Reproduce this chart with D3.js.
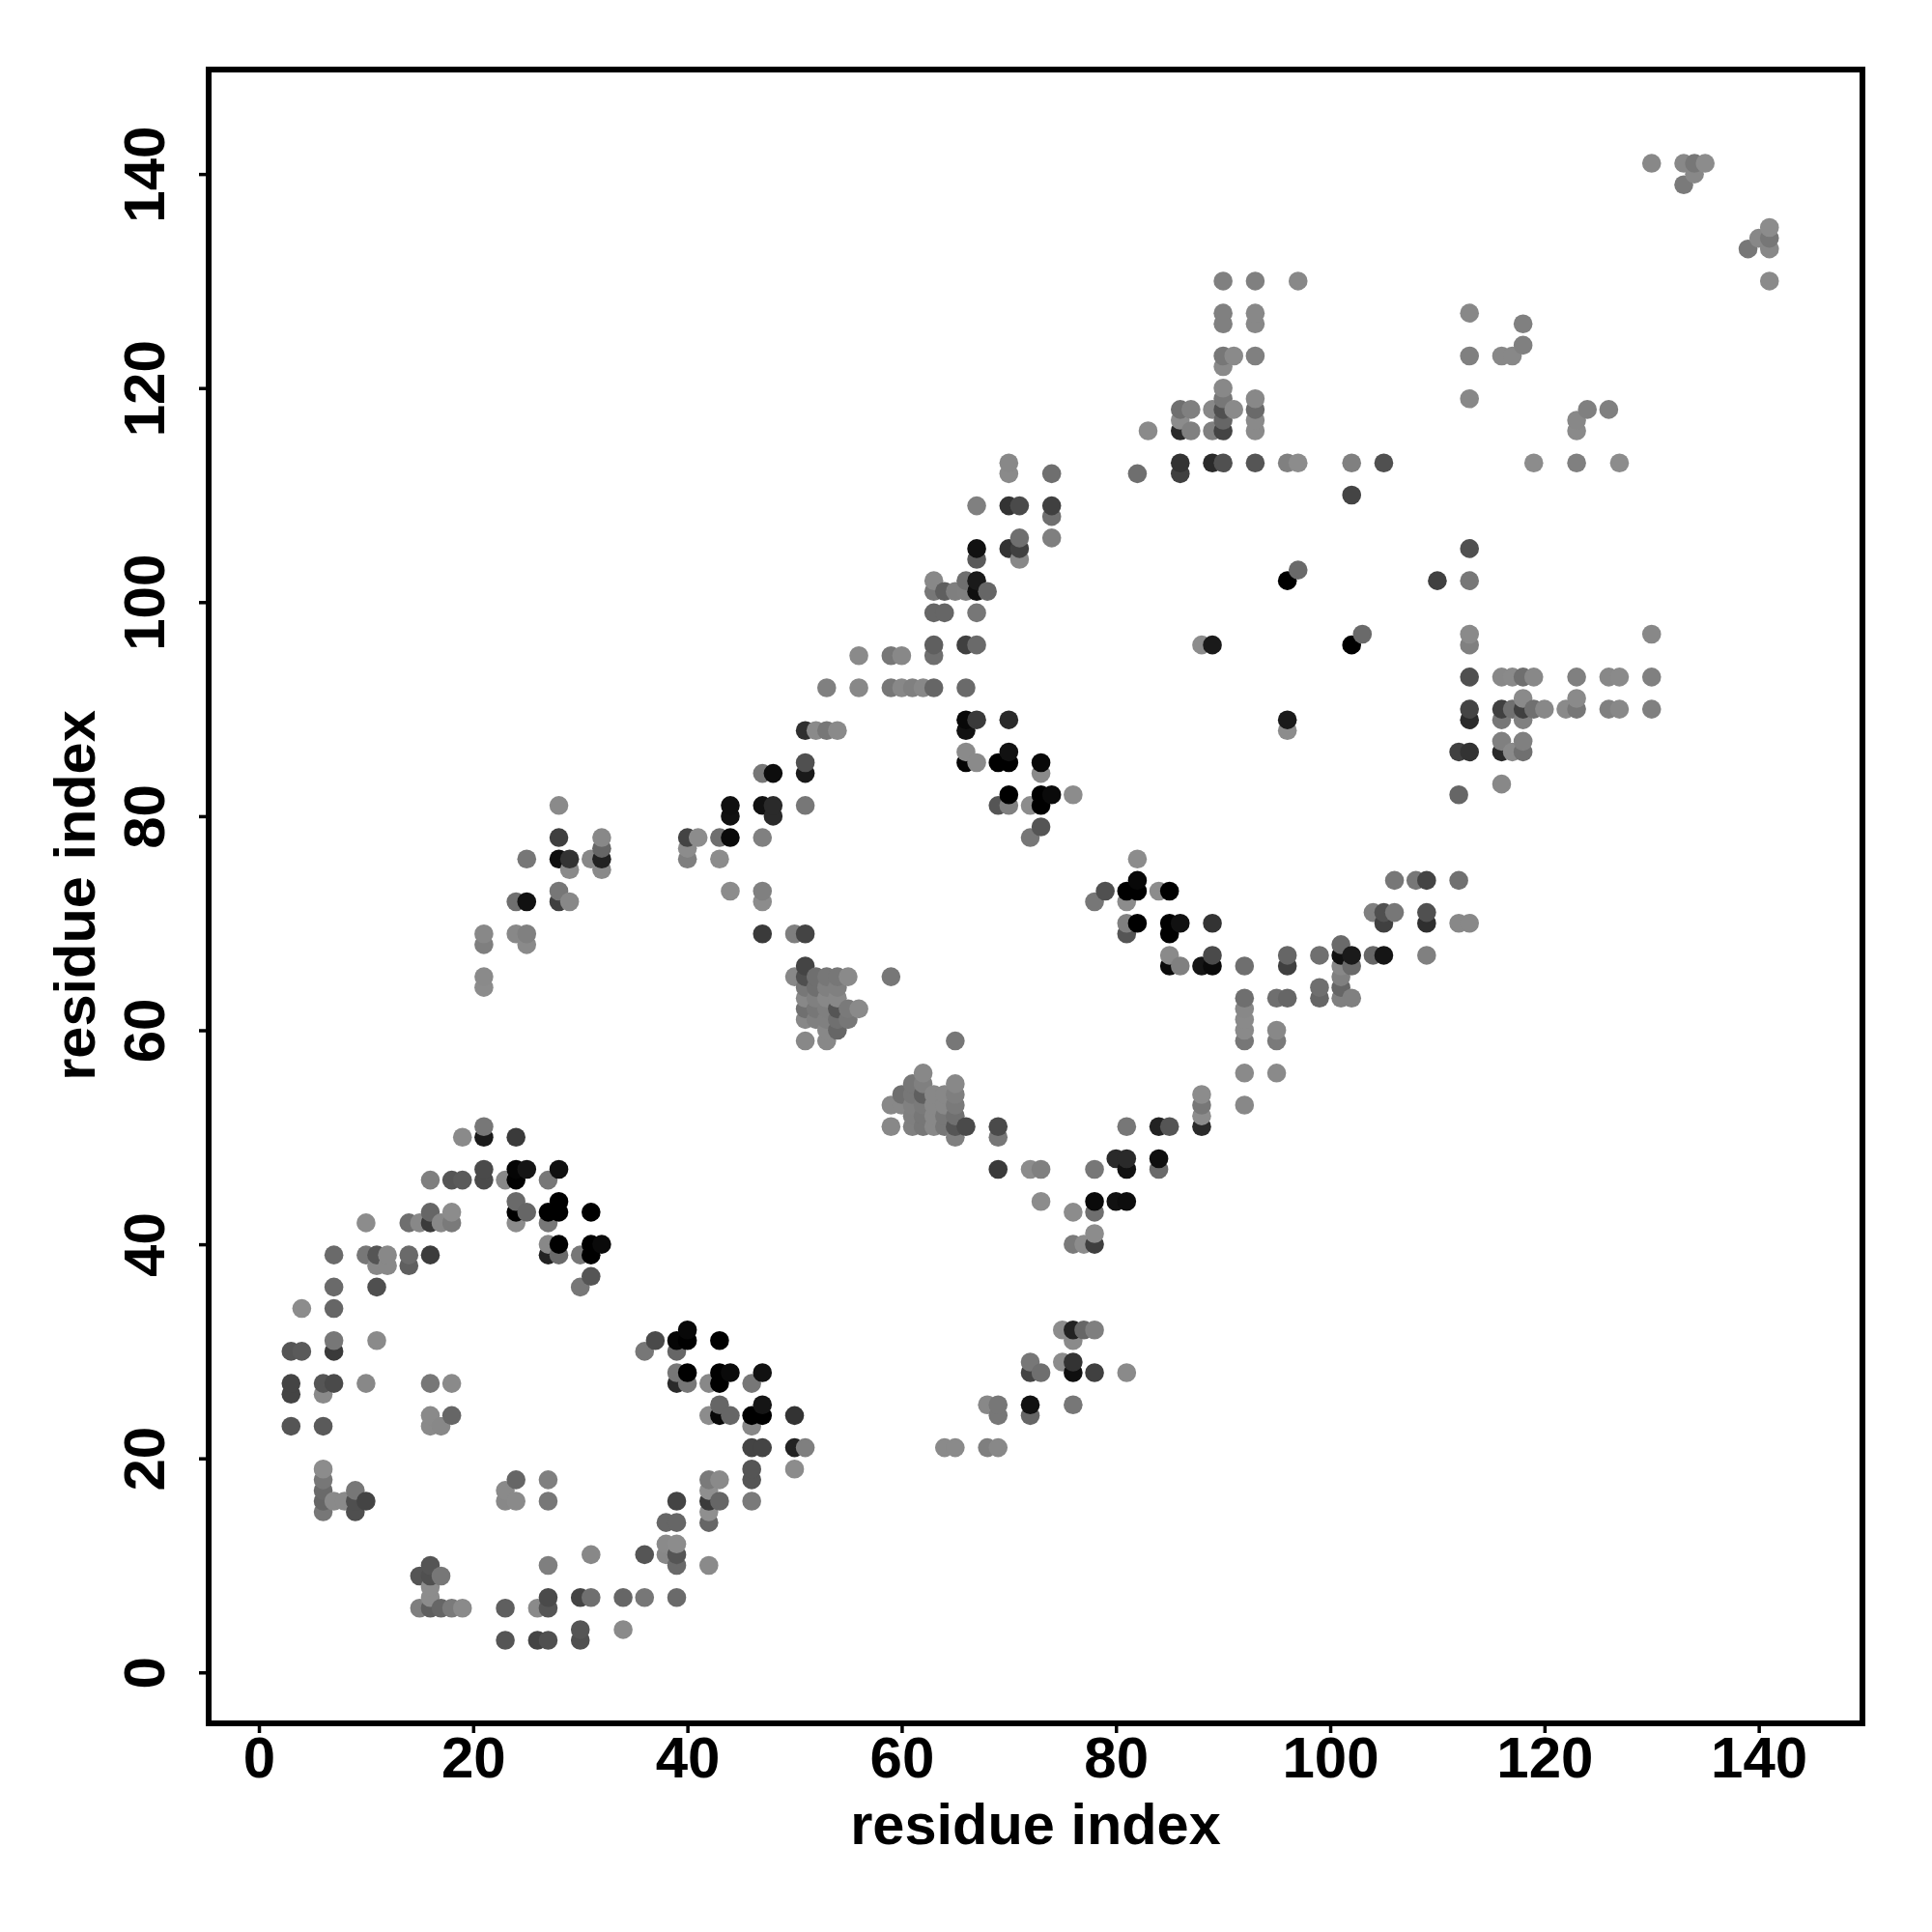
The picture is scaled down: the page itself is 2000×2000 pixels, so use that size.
<!DOCTYPE html>
<html>
<head>
<meta charset="utf-8">
<script src="https://cdn.jsdelivr.net/npm/d3@7"></script>
<style>html,body{margin:0;padding:0;background:#fff}</style>
</head>
<body>
<div id="chart"></div>
<script>
// Contact map.
const rowIndex = [51,50,47,46,44,43,42,40,39,38,37,36,34,32,31,30,28,27,26,25,24,23,21,19,18,17,16,15,14,12,11,10,9,8,7,6,4,3,
  66,65,64,63,62,61,60,59,56,55,54,53,52,51,50,48,47,44,43,41,40,51,52,53,54,32,31,29,28,25,24,21,63,62,61,60,59,56,
  81,80,78,77,76,75,73,72,69,68,65,64,89,88,86,85,84,82,83,79,76,74,71,70,67,68,66,65,64,
  113,112,110,109,108,106,105,104,103,102,101,99,97,96,95,93,92,91,90,87,
  141,140,139,135,134,133,130,127,126,124,123,122,120,119,118,117,116];
const colIndex = [[21],[19,21,24],[21,24,25,28],[16,18,19,21,23,24,27],[24,28],[16,18,24,25,27,28,31],[10,14,15,16,17,18,24,27],[27,28,31,32],[7,10,11,12,14,16,27,28,30,31],[11,12,14],[31],[7,11,30],[4,7],[40],[7,11,37,39,40,43],[3,4,7,36,39],[39,40,43,44,47],[3,6,7,10,16,18,39,40,42,43,46],[3,6],[43,47],[16,18,42,43,44,46,47,50],[3,6,16,17,46],[46,47,50,51],[6,46,50],[6,24,27,42,43,46],[6,9,23,42],[6,7,8,9,10,23,24,27,39,42,43,46],[6,9,42],[38,39,42],[38,39],[31,36,38,39],[16,27,39,42],[15,16,17],[16],[16,27,30,31,34,36,39],[15,16,17,18,19,23,26,27],[30,34],[23,26,27,30],
  [51],[50,51,52,53,54,55,59],[51,52,53,54],[51,52,53,54],[51,52,53,54,55,56],[51,52,53,54,55],[53,54],[51,53,65],[62],[61,62,65],[60,61,62,63,64,65],[59,60,61,62,63,64,65],[61,62,63,64,65],[59,61,62,63,64,65,66,69],[65,69],[80,81,84],[69,72,73,78,81,84],[73,78,80,81],[76,78],[78],[76,77,78],[81,84,85,88],[88],[88,92],[88],[75,76,77,78],[76],[72,75,76],[72,73,76,78,81],[68,69,72,76],[69,72],[64,65,68,69],[92,95,96,99,101,102],[92],[92],[92,95],[92,95],[92,95],
  [28,44,47,48,51,69,70,72,73],[44,48],[28,32,40,41,43,44,47,72],[32,40],[25,28,29,31,32,40,43],[29,32],[28,44,47,79,81,82,84,85],[24,25,28,29,47,78,81],[21,24,25,47,50,51,81,85],[21,25],[21],[21],[66,67,70,96,113,116,118],[51,52,53,54,66,96],[66,70,112,113,116,117,118],[51,66,67,69,70,73],[47,48,51,73],[70,73,74,76,112],[116],[73],[82],[82,106,108,109,112],[104,105,106,109],[81,82,85,86,89,105,109,112,113],[85,89,96,99,101,102,104,105,109],[101],[85,86,88,89,92,96,101,102],[101],[99,101],
  [70,86,89,90,93,96,97,102,105,119,123,127],[70,74,82,86],[102],[67,70,71,74],[74],[71,74],[67,70,71,113],[67,71],[97],[63,66,67,96,110,113],[63,64,65,66,67,68],[63,64,67],[103,113,130],[63,66,67,88,89,102,113],[56,59,60,63],[113,116,117,118,119,123,126,127,130],[53,56,59,60,61,62,63,66],[118,123],[113,116,117,118,119,120,122,123,126,127,130],[116,118],
  [130,133,134,135],[134],[133],[141],[140,141],[139,141],[90,93,97,141],[90,93,113],[90,93,118],[118],[90,91,93,113,116,117],[90],[90],[90,93,113],[86,87,89,90,91,93,124,126],[86,90,93,123],[83,86,87,89,90,93,123]];
const shade = [[119],[138,26,58],[74,5,21,16],[127,85,90,74,136,2,119],[106,0],[102,140,0,102,0,0,0],[140,111,136,58,136,122,140,119],[136,0,0,10],[106,119,85,136,106,60,34,106,119,0],[136,136,95],[85],[106,79,119],[140,102],[8],[119,138,74,5,0,0],[85,90,58,119,102],[119,0,0,10,17],[68,85,74,136,119,138,42,119,136,0,119],[68,138],[102,21],[138,102,140,8,102,0,0,51],[85,90,138,136,136],[68,68,34,127],[140,85,140],[119,102,127,122,138,85],[106,119,138,143],[102,138,138,79,68,136,138,119,68,58,102,122],[119,79,143],[102,102,102],[138,140],[136,85,136,85],[85,127,106,138],[85,80,119],[140],[140,74,68,111,102,119,106],[127,95,102,122,138,95,138,85],[85,138],[85,68,80,80],
  [68],[136,79,111,119,119,138,119],[119,111,128,128],[136,128,136,136],[112,119,127,85,122,138],[136,128,128,112,119],[136,102],[136,136,119],[136],[119,128,136],[111,119,95,136,136,127],[136,136,128,122,136,136,122],[127,119,136,119,112],[136,128,119,136,119,85,74,74],[128,119],[42,42,15],[58,140,128,119,17,106],[140,10,17,13],[140,111],[140],[122,140,63],[119,34,85,42],[140],[119,136],[140],[140,34,102,127],[138],[119,140,51],[68,111,15,64,138],[136,119,17,119],[119,102],[138,138,127,136],[111,111,102,102,128,128],[136],[138],[138,136],[119,122],[138,138],
  [138,15,17,42,119,85,128,140,0],[17,42],[63,136,68,140,111,10,128,119],[102,140],[119,15,51,136,34,127,140],[138,138],[119,140,128,80,0,0,140,0],[111,17,64,136,140,119,140],[136,136,128,58,127,68,85,0],[127,138],[138],[140],[8,58,42,26,42,119,128],[47,138,119,138,17,140],[138,17,64,51,42,138,112],[80,5,138,0,0,8],[119,13,26,138],[0,0,10,140,102],[136],[85],[140],[8,119,119,68,112],[128,80,119,80],[128,0,0,17,51,64,47,136,136],[138,74,102,112,17,26,102,21,128],[106],[10,128,21,10,111,64,136,106],[128],[111,102],
  [136,51,42,80,85,128,140,128,80,140,128,140],[138,111,111,64],[68],[128,51,74,64],[111],[111,127],[17,51,64,80],[90,136],[106],[136,111,26,0,64,119],[119,95,127,128,15,102],[102,102,119],[106,138,136],[95,64,106,140,26,0,128],[138,119,136,111],[80,136,138,111,136,128,136,138,128],[128,136,119,136,128,136,102,106],[138,138],[68,64,112,64,112,136,138,119,128,136,128],[128,128],
  [136,136,119,140],[136],[122],[140],[136,119],[119,136],[128,128,136,138],[128,136,136],[128,136,128],[128],[119,138,128,128,136,136],[138],[136],[119,136,136],[111,128,136,80,138,106,128,128],[140,102,138,136],[138,42,128,128,68,138,138]];
const tickValues = [0,20,40,60,80,100,120,140];
const axisLabel = "residue index";

const points = rowIndex.flatMap((row, i) =>
  colIndex[i].map((col, j) => ({x: col, y: row, s: shade[i][j]}))
).sort((a, b) => d3.ascending(a.x, b.x) || d3.ascending(a.y, b.y));

const svg = d3.select("#chart").append("svg")
  .attr("width", 2000).attr("height", 2000)
  .style("display", "block")
  .style("font-family", "'Liberation Sans', Arial, sans-serif")
  .style("font-weight", "bold");

const x = d3.scaleLinear().domain([-4.69, 149.68]).range([216, 1928]);
const y = d3.scaleLinear().domain([-4.76, 149.76]).range([1784, 72]);

svg.append("g").selectAll("circle").data(points).join("circle")
  .attr("cx", d => x(d.x)).attr("cy", d => y(d.y)).attr("r", 9.8)
  .attr("fill", d => d3.rgb(d.s, d.s, d.s));

svg.append("rect")
  .attr("x", x.range()[0]).attr("y", y.range()[1])
  .attr("width", x.range()[1] - x.range()[0])
  .attr("height", y.range()[0] - y.range()[1])
  .attr("fill", "none").attr("stroke", "#000").attr("stroke-width", 6);

const gx = svg.append("g").attr("transform", `translate(0,${y.range()[0]})`)
  .call(d3.axisBottom(x).tickValues(tickValues).tickSize(10).tickPadding(3.5).tickFormat(d3.format("d")));
gx.select(".domain").remove();
gx.selectAll("line").attr("stroke", "#000").attr("stroke-width", 3.5);
gx.selectAll("text").attr("fill", "#000").style("font-size", "60px").style("font-family", "inherit");

const gy = svg.append("g").attr("transform", `translate(${x.range()[0]},0)`)
  .call(d3.axisLeft(y).tickValues(tickValues).tickSize(10).tickPadding(8).tickFormat(d3.format("d")));
gy.select(".domain").remove();
gy.selectAll("line").attr("stroke", "#000").attr("stroke-width", 3.5);
gy.selectAll("text")
  .attr("fill", "#000").style("font-size", "60px").style("font-family", "inherit")
  .attr("text-anchor", "middle").attr("dy", null).attr("x", null)
  .attr("transform", "translate(-46,0) rotate(-90)");

svg.append("text").attr("x", 1072).attr("y", 1909)
  .attr("text-anchor", "middle").style("font-size", "59.5px").text(axisLabel);
svg.append("text").attr("transform", "translate(98,927) rotate(-90)")
  .attr("text-anchor", "middle").style("font-size", "59.5px").text(axisLabel);
</script>
</body>
</html>
